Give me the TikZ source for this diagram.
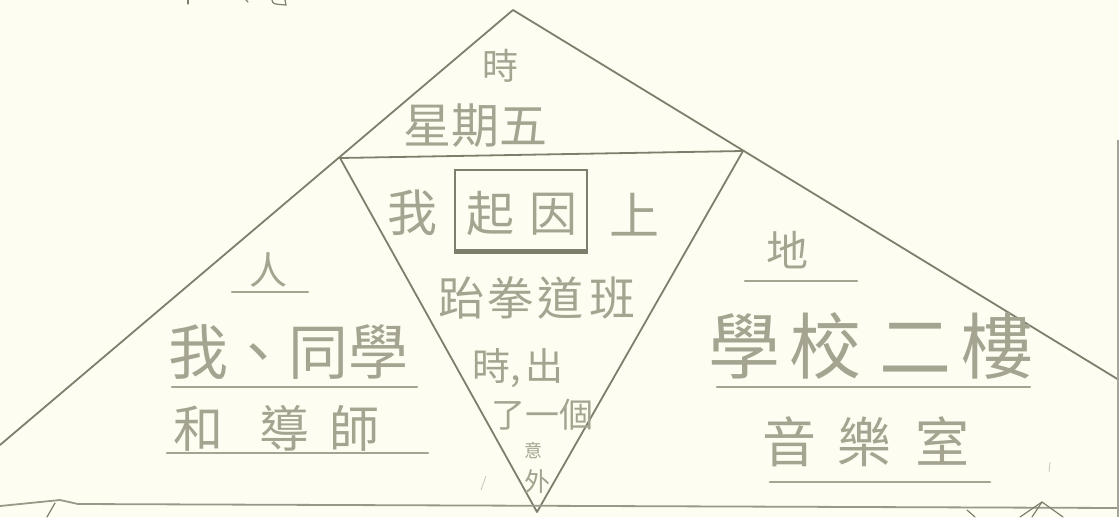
\documentclass[tikz,border=0pt]{standalone}
\usepackage{fontspec}
\newfontfamily\cjk{Noto Sans CJK TC}
\definecolor{paper}{HTML}{FDFDF1}
\definecolor{ink}{HTML}{7E7E6C}
\definecolor{pencil}{HTML}{A4A490}
\begin{document}
\begin{tikzpicture}[x=1pt,y=-1pt,
  frame/.style={draw=ink, line width=1.8pt, line join=round, line cap=round},
  uline/.style={draw=pencil, line width=2.4pt, line cap=round},
  stroke/.style={draw=ink, line width=1.2pt, line cap=round},
  txt/.style={text=pencil, inner sep=0pt, anchor=center},
  fsz/.style={font=\cjk\fontsize{#1}{#1}\selectfont},
]
\fill[paper] (0,0) rectangle (1119,517);
\useasboundingbox (0,0) rectangle (1119,517);

% main frame
\coordinate (A) at (513,10);
\coordinate (L) at (0,445);
\coordinate (R) at (1119,380);
\coordinate (P) at (340,158);
\coordinate (Q) at (743,151);
\coordinate (B) at (537,512);
\coordinate (BL) at (0,506);
\coordinate (BR) at (1119,508);
\draw[frame] (L) -- (A) -- (R);
\draw[frame] (P) -- (Q) -- (B) -- cycle;
\draw[frame, draw=ink!80] (BL) -- (60,500) -- (78,504) -- (BR);

% edge fragments
\draw[stroke] (188,0) -- (188,4);
\draw[stroke] (246,0) -- (248,2);
\draw[stroke] (272,0) .. controls (273,4) .. (286,5) -- (285,0);
\draw[stroke] (55,503) -- (47,517);
\coordinate (T2) at (1042,502);
\draw[stroke] (T2) -- (1020,517);
\draw[stroke] (T2) -- (1032,517);
\draw[stroke] (T2) -- (1063,517);
\draw[stroke] (967,510) -- (975,517);
\draw[draw=ink!70, line width=1.5pt] (1118,140) -- (1118,517);
\draw[draw=pencil!60, line width=0.8pt] (486,476) -- (481,490);
\draw[draw=pencil!60, line width=0.8pt] (1050,462) -- (1049,472);

% time
\node[txt, fsz=36] (shi) at (500,66) {時};
\node[txt, fsz=48] (day) at (475,126) {星期五};

% event (inverted triangle)
\node[txt, fsz=50] (wo1) at (412,213) {我};
\node[draw=ink, line width=1.8pt, minimum width=132pt, minimum height=80pt, inner sep=0pt] (cause) at (521,210) {};
\draw[ink, line width=4pt] ([yshift=-1pt]cause.south west) -- ([yshift=-1pt]cause.south east);
\node[txt, fsz=48] (qiyin) at (522,213) {起\hspace{16pt}因};
\node[txt, fsz=50] (shang) at (634,215) {上};
\node[txt, fsz=46] (l1) at (537,298) {跆\hspace{4pt}拳\hspace{4pt}道\hspace{6pt}班};
\node[txt, fsz=38] (l2) at (518,368) {時,\hspace{4pt}出};
\node[txt, fsz=34] (l3) at (542,415) {了一個};
\node[txt, fsz=18] (l4) at (533,450) {意};
\node[txt, fsz=26] (l5) at (537,482) {外};

% people
\node[txt, fsz=38] (ren) at (268,270) {人};
\draw[uline] (232,292) -- (308,292);
\node[txt, fsz=60] (ppl1) at (288,352) {我、同學};
\draw[uline] (172,387) -- (417,387);
\node[txt, fsz=50] (ppl2) at (276,428) {和\hspace{36pt}導\hspace{20pt}師};
\draw[uline] (167,453) -- (428,453);

% place
\node[txt, fsz=42] (di) at (787,250) {地};
\draw[uline] (745,281) -- (857,281);
\node[txt, fsz=72] (pl1) at (871,346) {學\hspace{10pt}校\hspace{18pt}二\hspace{10pt}樓};
\draw[uline] (717,387) -- (1030,387);
\node[txt, fsz=54] (pl2) at (866,442) {音\hspace{22pt}樂\hspace{24pt}室};
\draw[uline] (770,482) -- (990,482);
\end{tikzpicture}
\end{document}
